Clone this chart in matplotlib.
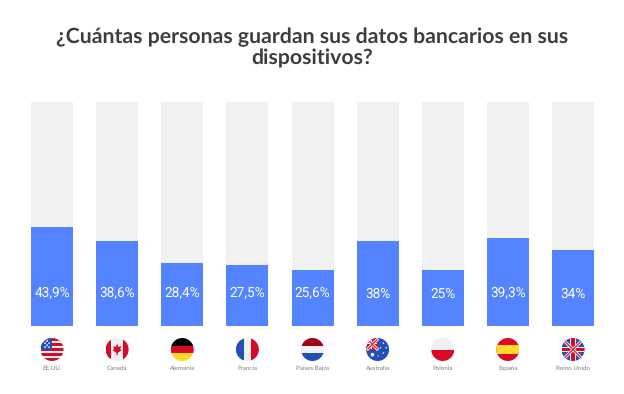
import matplotlib
matplotlib.use('Agg')
import matplotlib.pyplot as plt
from matplotlib.patches import Circle, Rectangle, Polygon
import numpy as np

plt.rcParams['font.family'] = ['Lato', 'DejaVu Sans']
plt.rcParams['text.hinting'] = 'no_hinting'

countries = ['EE.UU.', 'Canadá', 'Alemania', 'Francia', 'Países Bajos', 'Australia', 'Polonia', 'España', 'Reino Unido']
# the bars in the picture are a bit off from their printed labels
values = [44, 38, 28, 27, 25, 38, 25, 39, 34]
value_labels = ['43,9%', '38,6%', '28,4%', '27,5%', '25,6%', '38%', '25%', '39,3%', '34%']
flag_keys = ['us', 'ca', 'de', 'fr', 'nl', 'au', 'pl', 'es', 'uk']

W, H = 624, 394
BLUE = '#5383ff'
GREY = '#f0f2f1'
RED = '#d80b27'
NAVY = '#2350b8'
WHITE = '#f0f0f0'


def px_axes(fig, left, top, right, bottom):
    return fig.add_axes([left / W, 1 - bottom / H, (right - left) / W, (bottom - top) / H])


def hbands(ax, colors):
    edges = np.linspace(-1, 1, len(colors) + 1)
    for i, c in enumerate(colors):
        ax.add_patch(Rectangle((-1, edges[i]), 2, edges[i + 1] - edges[i], color=c, lw=0))


def vbands(ax, colors):
    edges = np.linspace(-1, 1, len(colors) + 1)
    for i, c in enumerate(colors):
        ax.add_patch(Rectangle((edges[i], -1), edges[i + 1] - edges[i], 2, color=c, lw=0))


def union_jack(ax, x0, y0, x1, y1, bar=0.14):
    # only used for the uk flag and the corner of the australian one
    ax.plot([x0, x1], [y0, y1], color=WHITE, lw=2.2)
    ax.plot([x0, x1], [y1, y0], color=WHITE, lw=2.2)
    ax.plot([x0, x1], [y0, y1], color=RED, lw=0.8)
    ax.plot([x0, x1], [y1, y0], color=RED, lw=0.8)
    cx, cy = (x0 + x1) / 2, (y0 + y1) / 2
    ax.add_patch(Rectangle((x0, cy - bar * 1.7), x1 - x0, bar * 3.4, color=WHITE, lw=0))
    ax.add_patch(Rectangle((cx - bar * 1.7, y0), bar * 3.4, y1 - y0, color=WHITE, lw=0))
    ax.add_patch(Rectangle((x0, cy - bar), x1 - x0, bar * 2, color=RED, lw=0))
    ax.add_patch(Rectangle((cx - bar, y0), bar * 2, y1 - y0, color=RED, lw=0))


def draw_flag(ax, key):
    if key == 'us':
        hbands(ax, [RED, WHITE] * 4 + [RED])
        ax.add_patch(Rectangle((-1, -0.05), 1.0, 1.05, color=NAVY, lw=0))
        for sx, sy in [(-0.6, 0.2), (-0.25, 0.2), (-0.6, 0.55), (-0.25, 0.55), (-0.42, 0.37), (-0.42, 0.75)]:
            ax.add_patch(Circle((sx, sy), 0.08, color=WHITE, lw=0))
    elif key == 'ca':
        vbands(ax, [RED, WHITE, WHITE, RED])
        ax.add_patch(Polygon([(0, 0.5), (0.12, 0.22), (0.36, 0.3), (0.26, 0.02), (0.4, -0.06),
                              (0.05, -0.3), (0.05, -0.5), (-0.05, -0.5), (-0.05, -0.3), (-0.4, -0.06),
                              (-0.26, 0.02), (-0.36, 0.3), (-0.12, 0.22)], color=RED, lw=0))
    elif key == 'de':
        hbands(ax, ['#fedb28', RED, '#000000'])
    elif key == 'fr':
        vbands(ax, [NAVY, WHITE, RED])
    elif key == 'nl':
        hbands(ax, [NAVY, WHITE, '#a2001d'])
    elif key == 'au':
        ax.add_patch(Rectangle((-1, -1), 2, 2, color=NAVY, lw=0))
        ax.add_patch(Rectangle((-1, 0), 1, 1, color=RED, lw=0))
        union_jack(ax, -0.85, 0.05, -0.05, 0.85, bar=0.05)
        for sx, sy, r in [(-0.45, -0.45, 0.16), (0.5, 0.55, 0.07), (0.25, 0.15, 0.07),
                          (0.75, 0.15, 0.07), (0.5, -0.3, 0.07), (0.05, -0.55, 0.05)]:
            ax.add_patch(Circle((sx, sy), r, color=WHITE, lw=0))
    elif key == 'pl':
        hbands(ax, [RED, WHITE])
    elif key == 'es':
        ax.add_patch(Rectangle((-1, -1), 2, 2, color=RED, lw=0))
        ax.add_patch(Rectangle((-1, -0.42), 2, 0.84, color='#fedb28', lw=0))
    elif key == 'uk':
        ax.add_patch(Rectangle((-1, -1), 2, 2, color=NAVY, lw=0))
        union_jack(ax, -1, -1, 1, 1)
    for artist in ax.patches + ax.lines:
        artist.set_clip_path(ax.clip_circle)


fig = plt.figure(figsize=(W / 100, H / 100), dpi=100, facecolor='white')

fig.text(0.5, 1 - 37 / H, '¿Cuántas personas guardan sus datos bancarios en sus',
         ha='center', va='center', fontsize=15.3, fontweight='bold', color='#3d3d3d')
fig.text(0.5, 1 - 58 / H, 'dispositivos?',
         ha='center', va='center', fontsize=15.3, fontweight='bold', color='#3d3d3d')

ax = px_axes(fig, 31, 102, 594, 325.5)
x = np.arange(len(countries))
bar_w = 42 / 65.125
ax.bar(x, [100] * len(x), width=bar_w, color=GREY, linewidth=0)
ax.bar(x, values, width=bar_w, color=BLUE, linewidth=0)
for i, lab in zip(x, value_labels):
    ax.text(i, 14.3, lab, ha='center', va='center', color='white', fontsize=9.8, family='Roboto')
ax.set_xlim(-bar_w / 2, len(x) - 1 + bar_w / 2)
ax.set_ylim(0, 100)
ax.axis('off')

for i, (name, key) in enumerate(zip(countries, flag_keys)):
    cx = 52 + 65.125 * i
    fa = px_axes(fig, cx - 11.5, 338, cx + 11.5, 361)
    fa.set_xlim(-1, 1)
    fa.set_ylim(-1, 1)
    fa.axis('off')
    fa.clip_circle = Circle((0, 0), 1, transform=fa.transData)
    draw_flag(fa, key)
    fig.text(cx / W, 1 - 368.5 / H, name, ha='center', va='center', fontsize=4.5, color='#808080')

fig.savefig('out.png', dpi=100)
